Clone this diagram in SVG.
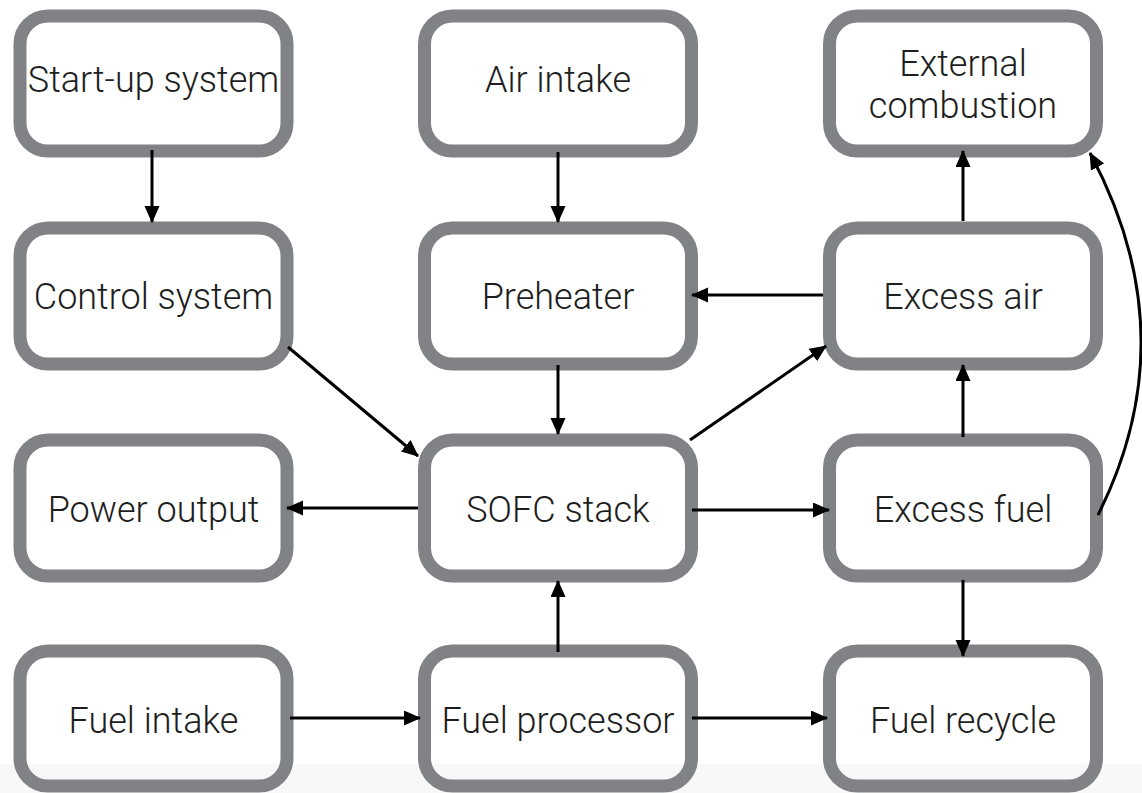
<svg xmlns="http://www.w3.org/2000/svg" width="1142" height="793" viewBox="0 0 1142 793">
<style>
.box{fill:none;stroke:#808285;stroke-width:13}
.lbl{font-family:Roboto,"Liberation Sans",Arial,sans-serif;font-weight:300;font-size:36px;fill:#1e1e1e;text-anchor:middle}
.c{stroke:#000;stroke-width:3;fill:none;marker-end:url(#ah)}
</style>
<defs>
<marker id="ah" markerUnits="userSpaceOnUse" markerWidth="18" markerHeight="16" refX="16" refY="7.5" orient="auto">
<path d="M0,0 L17,7.5 L0,15 z" fill="#000"/>
</marker>
</defs>
<rect width="1142" height="793" fill="#fff"/>
<rect y="764" width="1142" height="29" fill="#f8f8f8"/>
<g id="startup"><rect class="box" x="20" y="16" width="267" height="135" rx="28"/><text class="lbl" x="153.5" y="92">Start-up system</text></g>
<g id="airintake"><rect class="box" x="424.5" y="16" width="267" height="135" rx="28"/><text class="lbl" x="558" y="92">Air intake</text></g>
<g id="external"><rect class="box" x="829.5" y="16" width="267" height="135" rx="28"/><text class="lbl" x="963" y="76">External</text><text class="lbl" x="963" y="118">combustion</text></g>
<g id="control"><rect class="box" x="20" y="228" width="267" height="136" rx="28"/><text class="lbl" x="153.5" y="309">Control system</text></g>
<g id="preheater"><rect class="box" x="424.5" y="228" width="267" height="136" rx="28"/><text class="lbl" x="558" y="309">Preheater</text></g>
<g id="excessair"><rect class="box" x="829.5" y="228" width="267" height="136" rx="28"/><text class="lbl" x="963" y="309">Excess air</text></g>
<g id="power"><rect class="box" x="20" y="440" width="267" height="136" rx="28"/><text class="lbl" x="153.5" y="522">Power output</text></g>
<g id="sofc"><rect class="box" x="424.5" y="440" width="267" height="136" rx="28"/><text class="lbl" x="558" y="522">SOFC stack</text></g>
<g id="excessfuel"><rect class="box" x="829.5" y="440" width="267" height="136" rx="28"/><text class="lbl" x="963" y="522">Excess fuel</text></g>
<g id="fuelintake"><rect class="box" x="20" y="651" width="267" height="135" rx="28"/><text class="lbl" x="153.5" y="733">Fuel intake</text></g>
<g id="processor"><rect class="box" x="424.5" y="651" width="267" height="135" rx="28"/><text class="lbl" x="558" y="733">Fuel processor</text></g>
<g id="recycle"><rect class="box" x="829.5" y="651" width="267" height="135" rx="28"/><text class="lbl" x="963" y="733">Fuel recycle</text></g>
<g id="connectors">
<line class="c" x1="152" y1="150" x2="152" y2="222"/>
<line class="c" x1="558" y1="152" x2="558" y2="222"/>
<line class="c" x1="558" y1="365" x2="558" y2="434"/>
<line class="c" x1="288" y1="347" x2="418" y2="456"/>
<line class="c" x1="418" y1="508" x2="287" y2="508"/>
<line class="c" x1="690" y1="440" x2="826" y2="346"/>
<line class="c" x1="823" y1="295" x2="692" y2="295"/>
<line class="c" x1="692" y1="510" x2="829" y2="510"/>
<line class="c" x1="963" y1="437" x2="963" y2="365"/>
<line class="c" x1="963" y1="221" x2="963" y2="151"/>
<path class="c" d="M1098,515 Q1188,336 1090,153"/>
<line class="c" x1="963" y1="580" x2="963" y2="656"/>
<line class="c" x1="290" y1="718" x2="420" y2="718"/>
<line class="c" x1="692" y1="718" x2="827" y2="718"/>
<line class="c" x1="558" y1="652" x2="558" y2="581"/>
</g>
</svg>
